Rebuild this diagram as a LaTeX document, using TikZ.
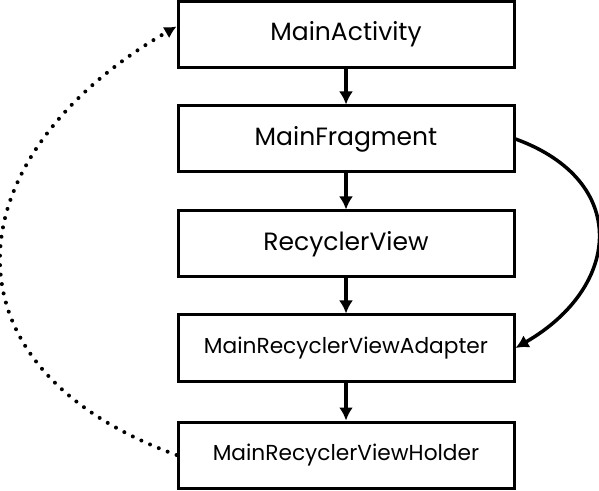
\documentclass[tikz,border=0pt]{standalone}
\usepackage{fontspec}
\setmainfont{Poppins}
\usepackage{tikz}
\usetikzlibrary{positioning}
\usetikzlibrary{arrows.meta}

\tikzset{
  classbox/.style={draw, line width=3pt, minimum width=336pt, minimum height=66pt, inner sep=0pt},
  bigname/.style={font=\fontsize{25}{30}\selectfont},
  smallname/.style={font=\fontsize{21.7}{26}\selectfont},
}

\begin{document}
\begin{tikzpicture}[x=1pt,y=1pt]

\useasboundingbox (0,0) rectangle (599,490);

\path
(346,455.5) node[classbox, bigname] (act) {MainActivity}
(346,351) node[classbox, bigname] (frag) {MainFragment}
(346,246) node[classbox, bigname] (rv) {RecyclerView}
(346,142) node[classbox, smallname] (adp) {MainRecyclerViewAdapter}
(346,35) node[classbox, smallname] (hold) {MainRecyclerViewHolder};

\draw[line width=3.5pt, -{Latex[length=13pt,width=14pt]}] (act) -- (frag);
\draw[line width=3.5pt, -{Latex[length=13pt,width=14pt]}] (frag) -- (rv);
\draw[line width=3.5pt, -{Latex[length=13pt,width=14pt]}] (rv) -- (adp);
\draw[line width=3.5pt, -{Latex[length=13pt,width=14pt]}] (adp) -- (hold);

\draw[line width=3.5pt, -{Latex[length=13pt,width=14pt]}] (frag.east) to[out=-20,in=30,looseness=1.5] (adp.east);

\draw[line width=4pt, line cap=round, dash pattern=on 0pt off 9.5pt, -{Latex[length=12pt,width=13pt]}] (hold.west) to[out=160,in=210,looseness=1.55] ([yshift=8pt]act.west);

\end{tikzpicture}
\end{document}
